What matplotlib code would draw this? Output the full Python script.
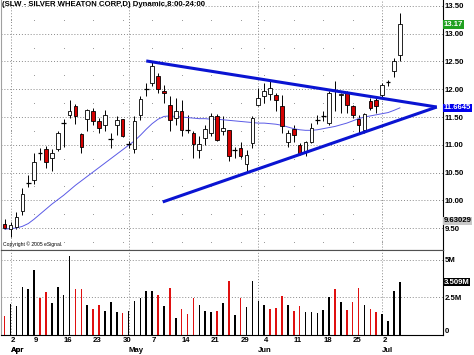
import matplotlib.pyplot as plt
import matplotlib.transforms as mtransforms
import numpy as np
import pandas as pd

plt.rcParams['font.family'] = ['Liberation Sans', 'DejaVu Sans']

# trading days (Good Friday, Memorial Day, Jul 4 closed)
dates = pd.bdate_range('2007-03-30', '2007-07-06')
dates = dates.drop(pd.to_datetime(['2007-04-06', '2007-05-28', '2007-07-04']))

opens = [9.57, 9.48, 9.52, 9.81, 10.30, 10.36, 10.87, 10.92, 10.77, 10.92,
         11.39, 11.54, 11.70, 11.19, 11.46, 11.60, 11.42, 11.36, 11.10, 11.36,
         11.46, 11.01, 10.92, 11.54, 12.00, 12.12, 12.24, 11.97, 11.72, 11.48,
         11.61, 11.28, 11.21, 10.91, 11.12, 11.21, 11.52, 11.24, 11.27, 10.89,
         10.95, 10.66, 11.03, 11.72, 11.87, 11.91, 11.90, 11.69, 11.05, 11.28,
         10.99, 10.89, 11.05, 11.44, 11.50, 11.39, 11.99, 11.89, 11.93, 11.70,
         11.47, 11.27, 11.79, 11.81, 11.89, 12.12, 12.32, 12.62]
highs = [9.66, 9.61, 9.78, 10.22, 10.45, 10.86, 10.95, 10.98, 10.92, 11.24,
         11.46, 11.81, 11.73, 11.21, 11.64, 11.66, 11.48, 11.63, 11.21, 11.51,
         11.47, 11.07, 11.51, 11.87, 12.11, 12.50, 12.29, 12.08, 11.87, 11.84,
         11.81, 11.54, 11.24, 11.15, 11.36, 11.57, 11.55, 11.51, 11.27, 10.96,
         11.05, 10.91, 11.51, 12.02, 12.11, 12.15, 11.93, 11.90, 11.27, 11.36,
         11.03, 11.07, 11.39, 11.53, 11.60, 11.96, 12.14, 11.93, 11.96, 11.72,
         11.54, 11.57, 11.84, 11.84, 12.12, 12.17, 12.56, 13.38]
lows = [9.48, 9.34, 9.49, 9.73, 10.23, 10.29, 10.73, 10.58, 10.53, 10.89,
        10.96, 11.48, 11.37, 10.86, 11.24, 11.36, 11.21, 11.24, 10.94, 11.18,
        11.14, 10.95, 10.85, 11.45, 11.87, 12.05, 11.93, 11.75, 11.24, 11.36,
        11.15, 11.21, 10.76, 10.76, 11.00, 11.15, 11.07, 11.18, 10.71, 10.76,
        10.76, 10.51, 10.94, 11.69, 11.75, 11.80, 11.60, 11.21, 10.96, 11.05,
        10.82, 10.80, 11.03, 11.37, 11.42, 11.36, 11.60, 11.57, 11.57, 11.48,
        11.21, 11.22, 11.63, 11.57, 11.86, 12.05, 12.22, 12.50]
closes = [9.50, 9.56, 9.70, 10.11, 10.31, 10.69, 10.86, 10.69, 10.86, 11.21,
          11.40, 11.60, 11.51, 10.96, 11.63, 11.42, 11.31, 11.54, 11.11, 11.45,
          11.15, 11.02, 11.43, 11.82, 12.01, 12.42, 12.00, 11.93, 11.45, 11.60,
          11.27, 11.27, 11.01, 11.01, 11.28, 11.52, 11.09, 11.31, 10.79, 10.90,
          10.79, 10.81, 11.49, 11.85, 11.96, 12.02, 11.81, 11.33, 11.22, 11.18,
          10.85, 11.05, 11.30, 11.45, 11.51, 11.93, 11.98, 11.91, 11.72, 11.54,
          11.36, 11.55, 11.67, 11.69, 12.08, 12.13, 12.50, 13.17]
sma = [9.48, 9.49, 9.50, 9.53, 9.58, 9.66, 9.75, 9.84, 9.93, 10.01,
       10.09, 10.18, 10.27, 10.35, 10.43, 10.51, 10.59, 10.67, 10.75, 10.83,
       10.91, 10.99, 11.07, 11.17, 11.28, 11.38, 11.46, 11.51, 11.52, 11.51,
       11.50, 11.49, 11.48, 11.47, 11.47, 11.46, 11.46, 11.45, 11.44, 11.43,
       11.42, 11.41, 11.40, 11.39, 11.39, 11.38, 11.37, 11.35, 11.32, 11.29,
       11.27, 11.26, 11.26, 11.27, 11.29, 11.31, 11.33, 11.36, 11.39, 11.43,
       11.47, 11.50, 11.52, 11.54, 11.56, 11.58, 11.62, 11.6645]
# volume in millions
volume = [1.21, 2.06, 1.88, 3.22, 3.07, 4.30, 2.46, 2.84, 2.10, 3.17,
          2.68, 5.30, 3.02, 3.02, 1.95, 1.72, 1.95, 1.61, 2.21, 1.54,
          1.43, 1.61, 2.24, 2.46, 2.89, 2.93, 2.68, 1.88, 3.11, 1.12,
          1.68, 1.39, 2.46, 2.01, 1.61, 1.54, 1.56, 2.10, 3.62, 1.28,
          2.44, 1.86, 3.56, 2.28, 1.97, 1.74, 1.77, 2.57, 1.97, 1.61,
          1.88, 1.48, 1.54, 1.43, 1.66, 2.55, 3.07, 2.15, 1.63, 2.17,
          3.13, 1.95, 1.74, 1.52, 1.39, 0.92, 2.89, 3.509]
vol_down = [1, 0, 0, 0, 0, 0, 1, 1, 0, 0, 0, 0, 1, 1, 0, 1, 1, 0, 0, 0,
            1, 0, 0, 0, 0, 0, 1, 0, 1, 0, 1, 1, 1, 0, 0, 0, 1, 0, 1, 0,
            1, 0, 0, 0, 0, 1, 1, 1, 0, 1, 1, 0, 0, 0, 0, 0, 1, 0, 1, 1,
            1, 0, 1, 1, 0, 0, 0, 0]

# hand-drawn triangle (bar index, price)
upper_x, upper_y = [24.0, 73.25], [12.51, 11.68]
lower_x, lower_y = [26.8, 73.25], [9.97, 11.68]

title = "(SLW - SILVER WHEATON CORP,D) Dynamic,8:00-24:00"

x = np.arange(len(dates))
o = np.array(opens)
c = np.array(closes)

fig = plt.figure(figsize=(4.74, 3.55), dpi=100)
ax = fig.add_axes([0.002, 0.2958, 0.9325, 0.7042])
axv = fig.add_axes([0.002, 0.0577, 0.9325, 0.2381], sharex=ax)

dot = (0, (1, 2))
gridc = '#8a8a8a'

# month lines / week ticks from the dates
month_idx = [i for i in range(1, len(dates)) if dates[i].month != dates[i - 1].month]
week_idx = [i for i in range(1, len(dates)) if dates[i].weekday() < dates[i - 1].weekday()]

for a in (ax, axv):
    for m in month_idx:
        a.axvline(m, color=gridc, linestyle=dot, linewidth=0.7, zorder=0)
    a.grid(axis='y', color=gridc, linestyle=dot, linewidth=0.7, zorder=0)
    a.set_axisbelow(True)

# small dots on quarter levels
qx, qy = np.meshgrid(week_idx, np.arange(9.25, 13.5, 0.5))
ax.scatter(qx.ravel(), qy.ravel(), s=0.4, color=gridc, zorder=0, linewidths=0)

# candles
ax.vlines(x, lows, highs, color='black', linewidth=0.7, zorder=2)
doji = np.abs(c - o) < 0.015
body = ~doji
face = np.where(c < o, '#d40000', 'white')
ax.bar(x[body], (c - o)[body], bottom=o[body], width=0.62, color=face[body],
       edgecolor='black', linewidth=0.6, zorder=3)
ax.hlines(c[doji], x[doji] - 0.4, x[doji] + 0.4, color='black', linewidth=0.9, zorder=3)

ax.plot(x, sma, color='#5a5ae6', linewidth=0.7, zorder=2)
ax.plot(upper_x, upper_y, color='#0a14d2', linewidth=2.2, solid_capstyle='butt', zorder=4)
ax.plot(lower_x, lower_y, color='#0a14d2', linewidth=2.2, solid_capstyle='butt', zorder=4)

ax.set_xlim(-0.63, 74.3)
ax.set_ylim(9.104, 13.608)
ax.yaxis.tick_right()
ax.set_yticks(np.arange(9.5, 13.51, 0.5))
ax.set_yticklabels(['%.2f' % v for v in np.arange(9.5, 13.51, 0.5)])
ax.tick_params(axis='y', length=0, pad=1, labelsize=5.6)
ax.tick_params(axis='x', length=0, labelbottom=False)
for t in ax.get_yticklabels():
    t.set_fontweight('bold')

ax.text(0.002, 0.995, title, transform=ax.transAxes, ha='left', va='top',
        fontsize=5.6, fontweight='bold')
ax.text(0.004, 0.012, 'Copyright \u00a9 2005 eSignal.', transform=ax.transAxes,
        ha='left', va='bottom', fontsize=3.6)

ty = mtransforms.blended_transform_factory(ax.transAxes, ax.transData)
box = dict(edgecolor='none', pad=0.5)
ax.text(1.002, closes[-1], '%.2f' % closes[-1], transform=ty, ha='left', va='center',
        fontsize=5.6, fontweight='bold', color='white', bbox=dict(box, facecolor='#20a020'))
ax.text(1.002, sma[-1], '%.4f' % sma[-1], transform=ty, ha='left', va='center',
        fontsize=5.6, fontweight='bold', color='white', bbox=dict(box, facecolor='#0000ee'))
ax.text(1.002, 9.63029, '9.63029', transform=ty, ha='left', va='center',
        fontsize=5.6, fontweight='bold', color='black', bbox=dict(box, facecolor='#c8c8c8'))

# volume
vcol = ['#e01010' if d else 'black' for d in vol_down]
axv.bar(x, volume, width=0.27, color=vcol, zorder=2)
axv.set_ylim(0, 5.67)
axv.yaxis.tick_right()
axv.set_yticks([0, 2.5, 5])
axv.set_yticklabels(['0', '2.5M', '5M'])
axv.tick_params(axis='y', length=0, pad=1, labelsize=5.6)
for t in axv.get_yticklabels():
    t.set_fontweight('bold')
axv.get_yticklabels()[0].set_verticalalignment('bottom')
tv = mtransforms.blended_transform_factory(axv.transAxes, axv.transData)
axv.text(1.002, volume[-1], '%.3fM' % volume[-1], transform=tv, ha='left', va='center',
         fontsize=5.6, fontweight='bold', color='white', bbox=dict(box, facecolor='black'))

axv.set_xticks(week_idx)
axv.set_xticklabels([str(dates[i].day) for i in week_idx])
axv.tick_params(axis='x', length=0, pad=1.5, labelsize=5.6)
for t in axv.get_xticklabels():
    t.set_fontweight('bold')
    t.set_horizontalalignment('left')
tm = mtransforms.blended_transform_factory(axv.transData, axv.transAxes)
for m in [1] + month_idx:
    axv.text(m, -0.185, dates[m].strftime('%b'), transform=tm, ha='left', va='center',
             fontsize=5.6, fontweight='bold')

for a in (ax, axv):
    a.spines['left'].set_color('#a0a0a0')
    a.spines['right'].set_color('black')
    a.spines['right'].set_linewidth(0.8)
ax.spines['top'].set_visible(False)
ax.spines['bottom'].set_color('#505050')
axv.spines['top'].set_color('#505050')
axv.spines['bottom'].set_color('black')

fig.savefig('out.png', dpi=100)
